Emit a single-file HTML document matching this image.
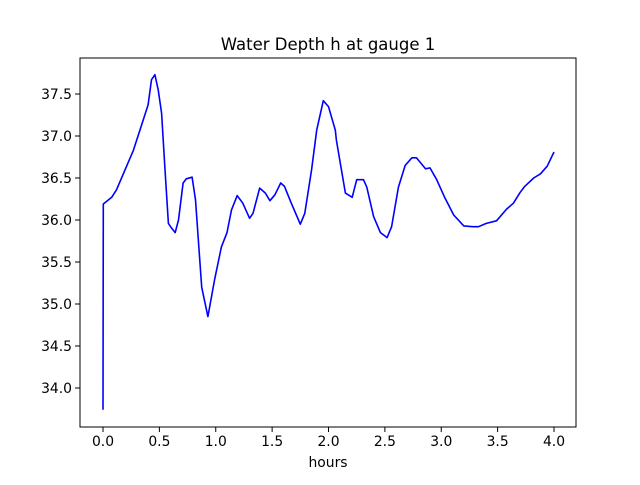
<!DOCTYPE html>
<html><head><meta charset="utf-8"><style>
body{margin:0;background:#fff}
text{font-family:"DejaVu Sans","Liberation Sans",sans-serif;fill:#000}
</style></head><body>
<svg id="chart" width="640" height="480" viewBox="0 0 640 480" xmlns="http://www.w3.org/2000/svg">
<rect width="640" height="480" fill="#fff"/>
<text x="328" y="50" font-size="16.5" text-anchor="middle">Water Depth h at gauge 1</text>
<g id="xt"></g>
<g id="yt"></g>
<polyline id="line" fill="none" stroke="#0000ff" stroke-width="1.6" stroke-linejoin="round"/>
<rect x="80" y="58" width="496" height="369" fill="none" stroke="#000" stroke-width="1"/>
<text x="328" y="467" font-size="13.9" text-anchor="middle">hours</text>
</svg>
<script>
const hours=[0.0,0.003,0.077,0.12,0.27,0.40,0.43,0.46,0.49,0.52,0.55,0.58,0.61,0.64,0.67,0.71,0.74,0.79,0.82,0.875,0.93,0.99,1.05,1.10,1.14,1.19,1.24,1.30,1.33,1.39,1.44,1.48,1.525,1.576,1.61,1.67,1.75,1.79,1.85,1.895,1.954,2.00,2.06,2.07,2.15,2.21,2.25,2.31,2.34,2.40,2.46,2.52,2.56,2.62,2.68,2.74,2.78,2.86,2.90,2.96,3.03,3.11,3.20,3.28,3.33,3.40,3.49,3.58,3.64,3.70,3.74,3.82,3.88,3.94,4.00];
const depth=[33.74,36.19,36.27,36.36,36.83,37.37,37.67,37.73,37.55,37.27,36.60,35.96,35.90,35.85,36.00,36.44,36.49,36.51,36.24,35.20,34.85,35.29,35.68,35.85,36.12,36.29,36.20,36.02,36.08,36.38,36.32,36.23,36.30,36.44,36.40,36.20,35.95,36.08,36.60,37.07,37.42,37.35,37.07,36.95,36.32,36.27,36.48,36.48,36.39,36.04,35.85,35.79,35.92,36.39,36.65,36.74,36.74,36.61,36.62,36.48,36.27,36.06,35.93,35.92,35.92,35.96,35.99,36.13,36.20,36.33,36.40,36.50,36.55,36.64,36.81];
const xTicks=["0.0","0.5","1.0","1.5","2.0","2.5","3.0","3.5","4.0"];
const yTicks=["34.0","34.5","35.0","35.5","36.0","36.5","37.0","37.5"];
const X=v=>103+v*112.75;
const Y=v=>94+(37.5-v)*84;
const ns="http://www.w3.org/2000/svg";
const xt=document.getElementById('xt'),yt=document.getElementById('yt');
xTicks.forEach(t=>{const x=X(parseFloat(t));
const l=document.createElementNS(ns,'line');l.setAttribute('x1',x);l.setAttribute('x2',x);l.setAttribute('y1',427);l.setAttribute('y2',432);l.setAttribute('stroke','#000');


xt.appendChild(l);
const tx=document.createElementNS(ns,'text');tx.setAttribute('x',x);tx.setAttribute('y',446);tx.setAttribute('font-size','13.9');tx.setAttribute('text-anchor','middle');tx.textContent=t;


xt.appendChild(tx);});
yTicks.forEach(t=>{const y=Y(parseFloat(t));
const l=document.createElementNS(ns,'line');l.setAttribute('x1',75);l.setAttribute('x2',80);l.setAttribute('y1',y);l.setAttribute('y2',y);l.setAttribute('stroke','#000');


yt.appendChild(l);
const tx=document.createElementNS(ns,'text');tx.setAttribute('x',72);tx.setAttribute('y',y+5);tx.setAttribute('font-size','13.9');tx.setAttribute('text-anchor','end');tx.textContent=t;


yt.appendChild(tx);});
document.getElementById('line').setAttribute('points',hours.map((h,i)=>X(h).toFixed(1)+','+Y(depth[i]).toFixed(1)).join(' '));
</script>
</body></html>
